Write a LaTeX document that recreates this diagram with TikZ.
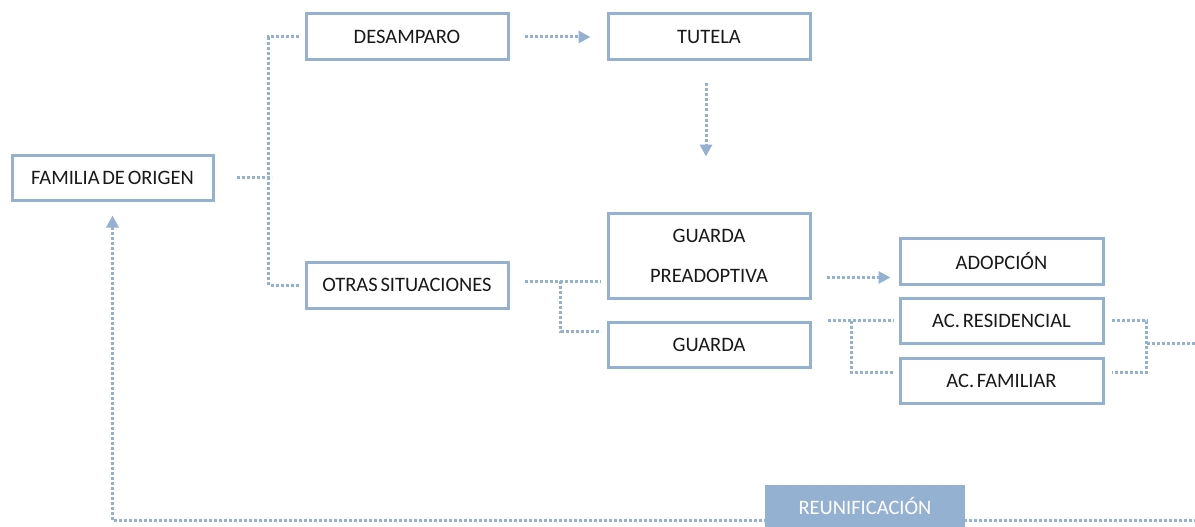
\documentclass[tikz,border=0pt]{standalone}
\usepackage{fontspec}
\setmainfont{Carlito}[WordSpace=0.6]
\usetikzlibrary{arrows.meta}
\definecolor{steel}{RGB}{149,177,210}
\definecolor{ink}{RGB}{25,25,25}
\tikzset{
  box/.style={draw=steel, line width=3pt, fill=white, inner sep=0pt,
    minimum width=202pt, minimum height=46pt, text=ink,
    font=\fontsize{20.5}{24}\selectfont},
  tagbox/.style={fill=steel, draw=none, inner sep=0pt,
    minimum width=200pt, minimum height=42pt, text=white,
    font=\fontsize{20.5}{24}\selectfont},
  dotline/.style={draw=steel, line width=3pt, dash pattern=on 3pt off 2pt},
  arrowline/.style={dotline, -{Triangle[length=12pt,width=12pt]}}
}
\begin{document}
\begin{tikzpicture}[x=1pt,y=-1pt]
\useasboundingbox (0,0) rectangle (1195,527);

% boxes
\node[box, minimum width=201pt, minimum height=45pt] (fam) at (112.5,177.5) {FAMILIA DE ORIGEN};
\node[box] (desa) at (407,37) {DESAMPARO};
\node[box] (tut) at (709,37) {TUTELA};
\node[box] (otras) at (407,285) {OTRAS SITUACIONES};
\node[box, minimum height=85pt, align=center, font=\fontsize{20.5}{40}\selectfont] (gpre) at (709,255.5) {GUARDA\\PREADOPTIVA};
\node[box, minimum height=45pt] (guarda) at (709,344.5) {GUARDA};
\node[box, minimum width=203pt] (adop) at (1001.5,261) {ADOPCIÓN};
\node[box, minimum width=203pt, minimum height=45pt] (acres) at (1001.5,320.5) {AC. RESIDENCIAL};
\node[box, minimum width=203pt, minimum height=45pt] (acfam) at (1001.5,380.5) {AC. FAMILIAR};

% family of origin branching
\coordinate (famj) at ([xshift=57]fam.east);
\draw[dotline] ([xshift=22]fam.east) -- (famj);
\draw[dotline] ([xshift=-6]desa.west) -| ([xshift=-36]otras.west) -- ([xshift=-6]otras.west);

% desamparo -> tutela -> (down)
\draw[arrowline] ([xshift=15]desa.east) -- ([xshift=-16]tut.west);
\draw[arrowline] ([xshift=-3,yshift=-22]tut.south) -- ([xshift=-3,yshift=-95]tut.south);

% otras situaciones -> guarda preadoptiva / guarda
\coordinate (oj) at ([xshift=51,yshift=4]otras.east);
\draw[dotline] ([xshift=15,yshift=4]otras.east) -- ([xshift=-6]gpre.west |- oj);
\draw[dotline] (oj) |- ([xshift=-6,yshift=13.5]guarda.west);

% guarda preadoptiva -> adopcion
\draw[arrowline] ([xshift=15,yshift=-22]gpre.east) -- ([xshift=-8,yshift=-16.5]adop.west);

% acogimiento brackets
\draw[dotline] ([xshift=-71]acres.west) -- ([xshift=-5]acres.west);
\draw[dotline] ([xshift=-47]acres.west) |- ([xshift=-5,yshift=8.5]acfam.west);
\draw[dotline] ([xshift=7]acres.east) -| ([xshift=42,yshift=8.5]acfam.east) -- ([xshift=7,yshift=8.5]acfam.east);
\coordinate (rj) at ([xshift=42,yshift=-23]acres.east);
\coordinate (rout) at (1197,343.5);
\draw[dotline] (rj) -- (rout);

% reunification return line
\coordinate (bend) at (1197,520);
\draw[arrowline] (bend) -| ([yshift=-14]fam.south);
\node[tagbox] (reuni) at (865,506) {REUNIFICACIÓN};
\end{tikzpicture}
\end{document}
